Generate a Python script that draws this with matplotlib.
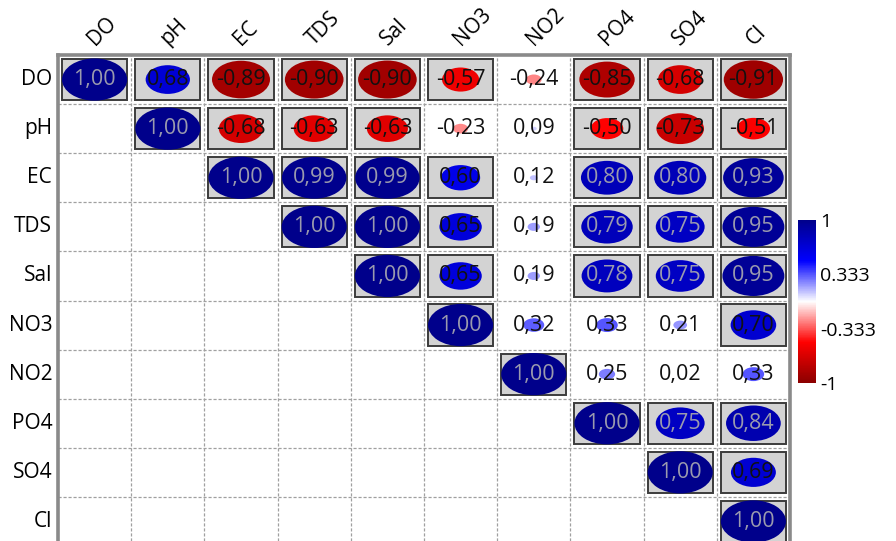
import matplotlib.pyplot as plt
from matplotlib.patches import Ellipse, Rectangle
from matplotlib.colors import LinearSegmentedColormap, Normalize
from matplotlib.cm import ScalarMappable
import matplotlib.transforms as mtransforms
import numpy as np

plt.rcParams['font.family'] = ['Open Sans', 'DejaVu Sans']

labels = ['DO', 'pH', 'EC', 'TDS', 'Sal', 'NO3', 'NO2', 'PO4', 'SO4', 'Cl']

# upper triangle of the correlation matrix, row by row
r_DO  = [1.00, 0.68, -0.89, -0.90, -0.90, -0.57, -0.24, -0.85, -0.68, -0.91]
r_pH  = [1.00, -0.68, -0.63, -0.63, -0.23, 0.09, -0.50, -0.73, -0.51]
r_EC  = [1.00, 0.99, 0.99, 0.60, 0.12, 0.80, 0.80, 0.93]
r_TDS = [1.00, 1.00, 0.65, 0.19, 0.79, 0.75, 0.95]
r_Sal = [1.00, 0.65, 0.19, 0.78, 0.75, 0.95]
r_NO3 = [1.00, 0.32, 0.33, 0.21, 0.70]
r_NO2 = [1.00, 0.25, 0.02, 0.33]
r_PO4 = [1.00, 0.75, 0.84]
r_SO4 = [1.00, 0.69]
r_Cl  = [1.00]
rows = [r_DO, r_pH, r_EC, r_TDS, r_Sal, r_NO3, r_NO2, r_PO4, r_SO4, r_Cl]

cbar_ticks = [-1, -0.333, 0.333, 1]
cbar_labels = ['-1', '-0.333', '0.333', '1']

n = len(labels)
cmap = LinearSegmentedColormap.from_list(
    'rb', ['#8B0000', '#FF0000', '#FFFFFF', '#0000FF', '#00008B'])
norm = Normalize(-1, 1)

W, H = 896, 541
fig = plt.figure(figsize=(W / 100, H / 100), dpi=100)
ax = fig.add_axes([58 / W, 0, 732 / W, 486 / H])
ax.set_xlim(0, n)
ax.set_ylim(486 / 49.1, 0)

# dashed cell grid
for k in range(1, n):
    ax.axvline(k, color='#a0a0a0', lw=0.9, ls=(0, (2.5, 1.5)), zorder=1)
    ax.axhline(k, color='#a0a0a0', lw=0.9, ls=(0, (2.5, 1.5)), zorder=1)

for i, row in enumerate(rows):
    for k, v in enumerate(row):
        j = i + k
        if abs(v) >= 0.5:
            ax.add_patch(Rectangle((j + 0.055, i + 0.08), 0.89, 0.84,
                                   facecolor='#d3d3d3', edgecolor='#3c3c3c',
                                   lw=1.4, zorder=2))
        ax.add_patch(Ellipse((j + 0.5, i + 0.5), 0.89 * abs(v), 0.86 * abs(v),
                             facecolor=cmap(norm(v)), edgecolor='none', zorder=3))
        tc = '#9a9aae' if v > 0.72 else '#111111'
        ax.text(j + 0.5, i + 0.5, f'{v:.2f}'.replace('.', ','), ha='center',
                va='center', fontsize=15.5, color=tc, zorder=4)

ax.set_xticks([])
ax.set_yticks([])
for s in ['left', 'top', 'right']:
    ax.spines[s].set_color('#8a8a8a')
    ax.spines[s].set_linewidth(2.6)
ax.spines['bottom'].set_visible(False)

trans = mtransforms.blended_transform_factory(ax.transData, ax.transAxes)
for j, lab in enumerate(labels):
    ax.text(j + 0.55, 1.012, lab, transform=trans, rotation=45,
            rotation_mode='anchor', ha='left', va='bottom', fontsize=15)
    ax.text(-0.08, j + 0.5, lab, ha='right', va='center', fontsize=15)

cax = fig.add_axes([798 / W, 1 - 383 / H, 18 / W, 163 / H])
cb = fig.colorbar(ScalarMappable(norm=norm, cmap=cmap), cax=cax)
cb.set_ticks(cbar_ticks)
cb.set_ticklabels(cbar_labels)
cb.outline.set_visible(False)
cax.tick_params(length=0, labelsize=14, pad=3)

fig.savefig('out.png', dpi=100)
